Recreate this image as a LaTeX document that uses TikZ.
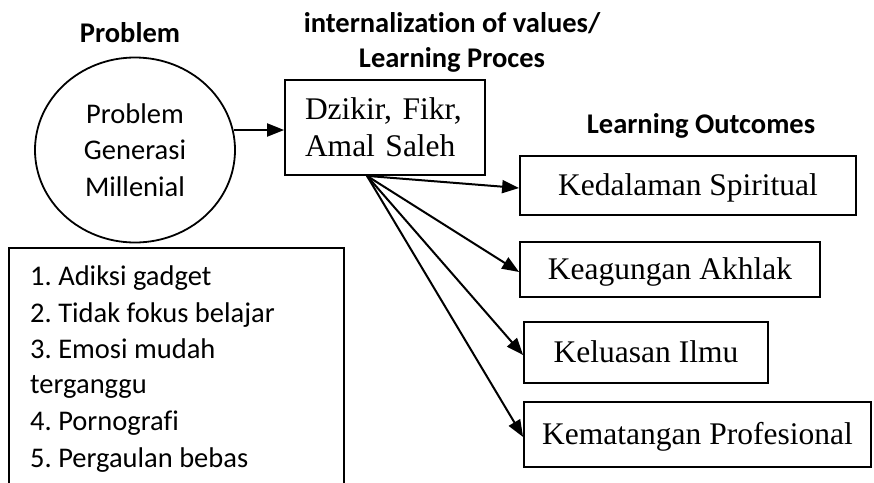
\documentclass[tikz,border=0pt]{standalone}
\usepackage{fontspec}
\setmainfont{Liberation Serif}
\newfontfamily\calfont[Ligatures={NoCommon,NoContextual},Contextuals=NoAlternate]{Carlito}
\usetikzlibrary{shapes.geometric,arrows.meta}
\frenchspacing
\begin{document}
\begin{tikzpicture}[x=1pt,y=-1pt,
  sans/.style={font=\calfont\fontsize{28.5}{36.4}\selectfont},
  head/.style={font=\calfont\bfseries\fontsize{28.5}{35}\selectfont},
  serif/.style={font=\fontsize{31.5}{37}\selectfont},
  box/.style={draw,line width=1.8pt,rectangle,inner sep=0pt,serif},
  obox/.style={box,text height=22pt,text depth=2pt},
  arr/.style={line width=2pt,-{Triangle[length=17pt,width=13pt]}}]
\useasboundingbox (0,0) rectangle (874,482);
% headings
\node[head,anchor=base] (h1) at (130,42) {Problem};
\node[head,anchor=base] (h2a) at (452,32) {internalizat\kern0pt ion of values/};
\node[head,anchor=base] (h2b) at (452,67) {Learning Proces};
\node[head,anchor=base] (h3) at (701,133) {Learning Outcomes};
% problem ellipse
\node[ellipse,draw,line width=1.8pt,minimum width=200pt,minimum height=185pt,
      inner sep=0pt,sans,align=center] (prob) at (135,150)
      {Problem\\Generasi\\Millenial};
% process box
\node[box,minimum width=200pt,minimum height=95pt,text width=160pt,align=left]
      (dz) at (385,127.5) {Dzikir, Fikr,\\Amal Saleh};
% outcomes
\node[obox,minimum width=336pt,minimum height=59pt] (o1) at (688,185.5) {Kedalaman Spiritual};
\node[obox,minimum width=300pt,minimum height=55pt] (o2) at (670,269.5) {Keagungan Akhlak};
\node[obox,minimum width=244pt,minimum height=61pt] (o3) at (646,352.5) {Keluasan Ilmu};
\node[obox,minimum width=347pt,minimum height=65pt] (o4) at (697.5,434.5) {Kematangan Profesional};
% list box (bottom edge lies below the picture)
\node[draw,line width=1.8pt,minimum width=335pt,minimum height=260pt,inner sep=0pt,
      anchor=north west] (lst) at (8,247) {};
\node[sans,anchor=base west,inner sep=0pt] (l1) at (30,285) {1. Adiksi gadget};
\node[sans,anchor=base west,inner sep=0pt] (l2) at (30,322) {2. Tidak fokus belajar};
\node[sans,anchor=base west,inner sep=0pt] (l3) at (30,358) {3. Emosi mudah};
\node[sans,anchor=base west,inner sep=0pt] (l4) at (30,393) {terganggu};
\node[sans,anchor=base west,inner sep=0pt] (l5) at (30,430) {4. Pornograf\kern0pt i};
\node[sans,anchor=base west,inner sep=0pt] (l6) at (30,467) {5. Pergaulan bebas};
% connectors
\coordinate (pa) at ([xshift=-2pt,yshift=20pt]prob.east);
\draw[arr] (pa) -- (pa -| dz.west);
\coordinate (src) at ([xshift=-18pt]dz.south);
\draw[arr] (src) -- ([yshift=-2.5pt]o1.west);
\draw[arr] (src) -- ([yshift=-2.5pt]o2.west);
\draw[arr] (src) -- ([yshift=-2.5pt]o3.west);
\draw[arr] (src) -- ([yshift=-2.5pt]o4.west);
\end{tikzpicture}
\end{document}
